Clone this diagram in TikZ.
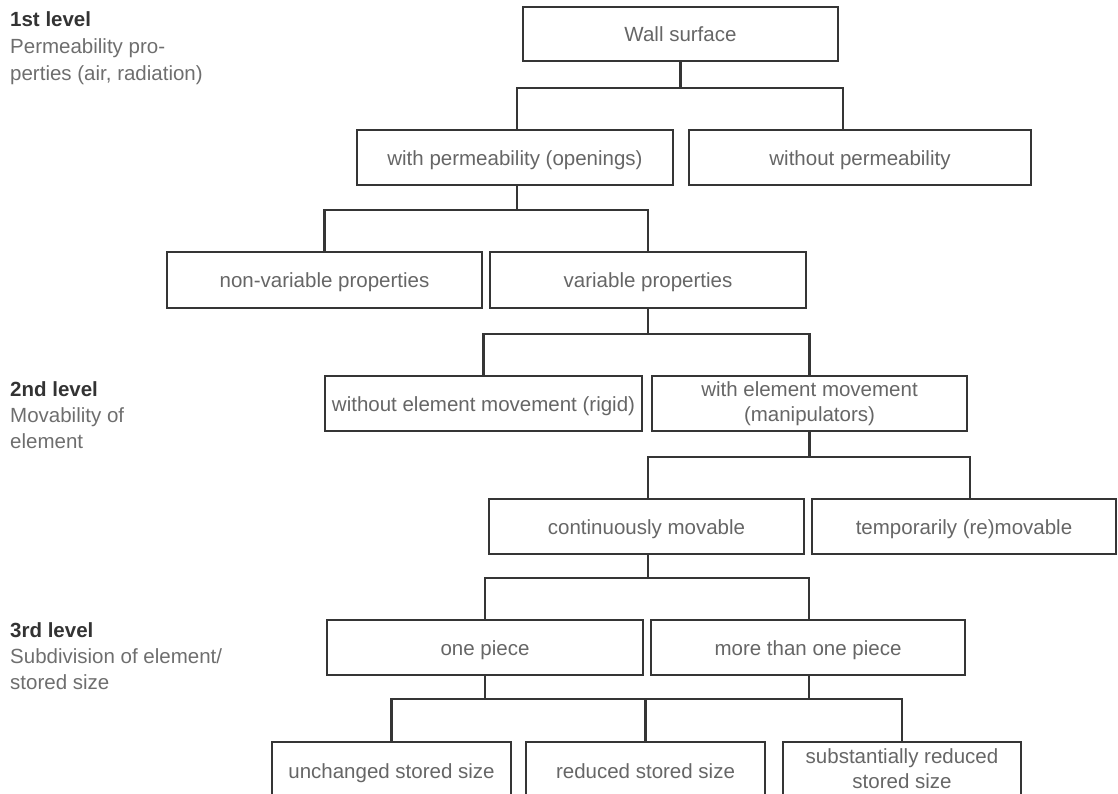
\documentclass[tikz,border=0pt]{standalone}
\usepackage{fontspec}
\setmainfont{Liberation Sans}
\begin{document}
\definecolor{linegray}{HTML}{353535}
\definecolor{textgray}{HTML}{666666}
\definecolor{labelgray}{HTML}{6E6E6E}
\definecolor{headgray}{HTML}{333333}
\begin{tikzpicture}[x=1pt,y=-1pt,
  box/.style={draw=linegray, line width=2.2pt, fill=white, inner sep=0pt,
    anchor=center, align=center, text=textgray,
    font=\fontsize{20.5}{25}\selectfont},
  oneline/.style={text height=19pt, text depth=4pt},
  conn/.style={draw=linegray, line width=2.2pt},
  lvlhead/.style={anchor=base west, inner sep=0pt, text=headgray,
    font=\fontsize{20.5}{26}\selectfont\bfseries},
  lvltext/.style={anchor=base west, inner sep=0pt, text=labelgray,
    font=\fontsize{20.5}{26}\selectfont}]
\useasboundingbox (0,0) rectangle (1118,793);
\clip (0,0) rectangle (1118,793);

% level labels on the left
\node[lvlhead] (l1h) at (10,26) {1st level};
\node[lvltext] (l1a) at (10,53) {Permeability pro-};
\node[lvltext] (l1b) at (10,80) {perties (air, radiation)};
\node[lvlhead] (l2h) at (10,396) {2nd level};
\node[lvltext] (l2a) at (10,422) {Movability of};
\node[lvltext] (l2b) at (10,448) {element};
\node[lvlhead] (l3h) at (10,637) {3rd level};
\node[lvltext] (l3a) at (10,663) {Subdivision of element/};
\node[lvltext] (l3b) at (10,689) {stored size};

% boxes
\node[box, oneline, minimum width=315pt, minimum height=54pt] (wall) at (680.5,34) {Wall surface};
\node[box, oneline, minimum width=316pt, minimum height=55pt] (withp) at (515,157.5) {with permeability (openings)};
\node[box, oneline, minimum width=342pt, minimum height=55pt] (wop) at (860,157.5) {without permeability};
\node[box, oneline, minimum width=315pt, minimum height=56pt] (nonvar) at (324.5,280) {non-variable properties};
\node[box, oneline, minimum width=316pt, minimum height=56pt] (var) at (648,280) {variable properties};
\node[box, oneline, minimum width=317pt, minimum height=55pt] (rigid) at (483.5,403.5) {without element movement (rigid)};
\node[box, minimum width=315pt, minimum height=55pt] (withmov) at (809.5,403.5) {with element movement\\(manipulators)};
\node[box, oneline, minimum width=315pt, minimum height=55pt] (contmov) at (646.5,526.5) {continuously movable};
\node[box, oneline, minimum width=304pt, minimum height=55pt] (temp) at (964,526.5) {temporarily (re)movable};
\node[box, oneline, minimum width=316pt, minimum height=55pt] (onep) at (485,647.5) {one piece};
\node[box, oneline, minimum width=314pt, minimum height=55pt] (morep) at (808,647.5) {more than one piece};
\node[box, oneline, minimum width=239pt, minimum height=58pt] (unch) at (391.5,771) {unchanged stored size};
\node[box, oneline, minimum width=239pt, minimum height=58pt] (red) at (645.5,771) {reduced stored size};
\node[box, minimum width=238pt, minimum height=54pt] (subst) at (902,769) {substantially reduced\\stored size};

% connectors
\draw[conn] (wall.south) -- ++(0,26) coordinate (b1) -| ([xshift=2pt]withp.north);
\draw[conn] (b1) -| ([xshift=-17pt]wop.north);

\draw[conn] ([xshift=2pt]withp.south) -- ++(0,24) coordinate (b2) -| (nonvar.north);
\draw[conn] (b2) -| (var.north);

\draw[conn] (var.south) -- ++(0,25) coordinate (b3) -| (rigid.north);
\draw[conn] (b3) -| (withmov.north);

\draw[conn] (withmov.south) -- ++(0,25) coordinate (b4) -| ([xshift=1.5pt]contmov.north);
\draw[conn] (b4) -| ([xshift=6pt]temp.north);

\draw[conn] ([xshift=1.5pt]contmov.south) -- ++(0,23) coordinate (b5) -| (onep.north);
\draw[conn] (b5) -| ([xshift=1pt]morep.north);

\draw[conn] (onep.south) -- ++(0,23) coordinate (b6);
\draw[conn] ([xshift=1pt]morep.south) -- ++(0,23);
\draw[conn] (b6) -| (unch.north);
\draw[conn] (b6) -| (red.north);
\draw[conn] (b6) -| (subst.north);
\end{tikzpicture}
\end{document}
